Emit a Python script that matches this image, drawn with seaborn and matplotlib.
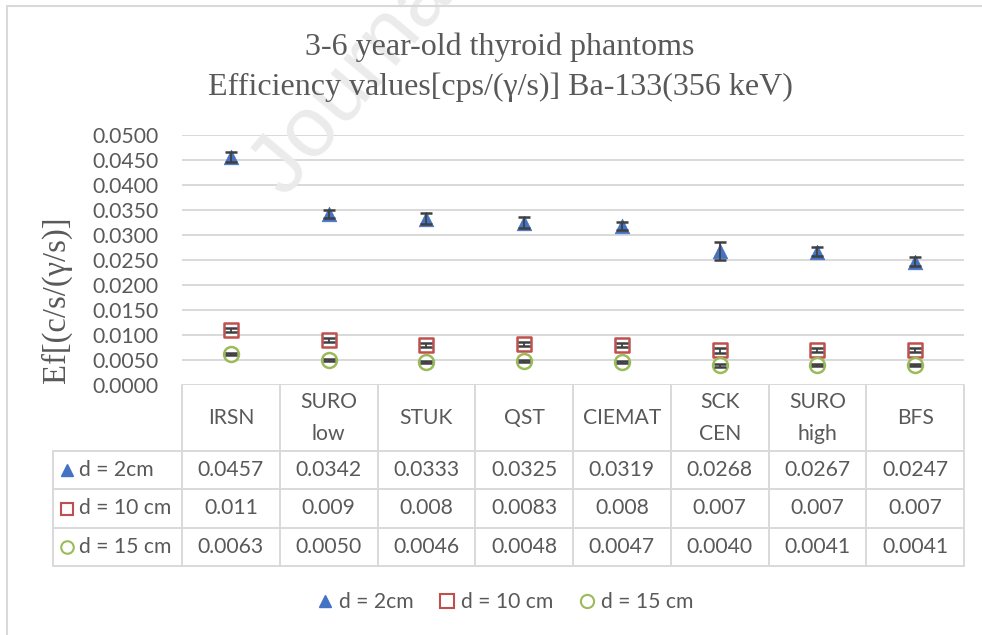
import matplotlib
matplotlib.use("Agg")
import matplotlib.pyplot as plt
from matplotlib.lines import Line2D
import seaborn as sns
import pandas as pd
import numpy as np

# ---- data ----
labs = ["IRSN", "SURO low", "STUK", "QST", "CIEMAT", "SCK CEN", "SURO high", "BFS"]
series = ["d = 2cm", "d = 10 cm", "d = 15 cm"]
d2 = [0.0457, 0.0342, 0.0333, 0.0325, 0.0319, 0.0268, 0.0267, 0.0247]
d10 = [0.011, 0.009, 0.008, 0.0083, 0.008, 0.007, 0.007, 0.007]
d15 = [0.0063, 0.0050, 0.0046, 0.0048, 0.0047, 0.0040, 0.0041, 0.0041]
err2 = [0.0010, 0.0008, 0.0011, 0.0011, 0.0008, 0.0018, 0.0009, 0.0009]
err10 = [0.0004, 0.0004, 0.0004, 0.0004, 0.0004, 0.0005, 0.0004, 0.0004]
err15 = [0.0002, 0.0002, 0.0002, 0.0002, 0.0002, 0.0003, 0.0002, 0.0002]
yticks = [0.0, 0.005, 0.010, 0.015, 0.020, 0.025, 0.030, 0.035, 0.040, 0.045, 0.050]
title1 = "3-6 year-old thyroid phantoms"
title2 = "Efficiency values[cps/(\u03b3/s)] Ba-133(356 keV)"
ylabel = "Ef[(c/s/(\u03b3/s)]"

colors = ["#4472C4", "#C0504D", "#9BBB59"]
markers = ["^", "s", "o"]
txtc = "#595959"
gridc = "#D9D9D9"

df = pd.DataFrame({
    "lab": labs * 3,
    "series": np.repeat(series, len(labs)),
    "value": d2 + d10 + d15,
    "err": err2 + err10 + err15,
})

sns.set_theme(style="white")
plt.rcParams["font.family"] = ["Lato", "DejaVu Sans"]

W, H = 982, 635
fig = plt.figure(figsize=(W / 100, H / 100), dpi=100)
fig.patch.set_facecolor("white")

def fx(x):
    return x / W

def fy(y):
    return 1 - y / H

# watermark
fig.text(fx(238), fy(192), "Journal Pre-proof", rotation=50, fontsize=62,
         color="#EBEBEB", family="Liberation Sans", ha="left", va="baseline",
         zorder=0)

# outer frame
fig.add_artist(Line2D([fx(7), fx(7)], [fy(6), fy(640)], color=gridc, lw=1.5))
fig.add_artist(Line2D([fx(7), fx(985)], [fy(6), fy(6)], color=gridc, lw=1.5))

x0, x1 = 182, 964
ytop, ybot = 135, 385
ax = fig.add_axes([fx(x0), fy(ybot), (x1 - x0) / W, (ybot - ytop) / H])
ax.set_facecolor("none")
ax.set_xlim(-0.5, len(labs) - 0.5)
ax.set_ylim(0, 0.05)
ax.set_yticks(yticks)
ax.set_yticklabels([f"{t:.4f}" for t in yticks], fontsize=15.2, color=txtc)
ax.tick_params(axis="y", length=0, pad=17)
ax.set_xticks([])
for s in ax.spines.values():
    s.set_visible(False)
ax.yaxis.grid(True, color=gridc, lw=1.4)
ax.set_axisbelow(True)

pos = {l: i for i, l in enumerate(labs)}
handles = []
for k, name in enumerate(series):
    sub = df[df["series"] == name]
    xs = sub["lab"].map(pos).to_numpy()
    if k == 0:
        sns.scatterplot(x=xs, y=sub["value"].to_numpy(), marker=markers[k], s=110,
                        color=colors[k], edgecolor=colors[k], linewidth=0.5, ax=ax, zorder=3)
    else:
        sns.scatterplot(x=xs, y=sub["value"].to_numpy(), marker=markers[k], s=115,
                        facecolor="white", edgecolor=colors[k], linewidth=1.8, ax=ax, zorder=3)
    ax.errorbar(xs, sub["value"], yerr=sub["err"], fmt="none", ecolor="#404040",
                elinewidth=1.3, capsize=4.5, capthick=1.8, zorder=4)
    if k == 0:
        h = Line2D([], [], marker=markers[k], ls="", markersize=9, color=colors[k])
    else:
        h = Line2D([], [], marker=markers[k], ls="", markersize=9.5, markerfacecolor="white",
                   markeredgecolor=colors[k], markeredgewidth=1.5)
    handles.append(h)

# titles
fig.text(fx(500), fy(47), title1, ha="center", va="center", fontsize=23,
         family="Liberation Serif", color=txtc)
fig.text(fx(500), fy(87), title2, ha="center", va="center", fontsize=23,
         family="Liberation Serif", color=txtc)
fig.text(fx(56), fy(300), ylabel, ha="center", va="center", rotation=90,
         fontsize=23.5, family="Liberation Serif", color=txtc)

# data table
cols = np.linspace(x0, x1, len(labs) + 1)
rows = [385, 451, 489, 528, 566]
tl = 53
lw_t = 1.4
for y in rows[1:]:
    fig.add_artist(Line2D([fx(tl), fx(x1)], [fy(y), fy(y)], color=gridc, lw=lw_t))
fig.add_artist(Line2D([fx(tl), fx(tl)], [fy(rows[1]), fy(rows[-1])], color=gridc, lw=lw_t))
for c in cols:
    fig.add_artist(Line2D([fx(c), fx(c)], [fy(rows[0]), fy(rows[-1])], color=gridc, lw=lw_t))

fs_t = 15.2
for i, l in enumerate(labs):
    cx = (cols[i] + cols[i + 1]) / 2
    fig.text(fx(cx), fy((rows[0] + rows[1]) / 2), l.replace(" ", "\n"), ha="center",
             va="center", fontsize=fs_t, color=txtc, linespacing=1.75)
    vals = [f"{d2[i]:.4f}", f"{d10[i]:g}", f"{d15[i]:.4f}"]
    for r, v in enumerate(vals):
        fig.text(fx(cx), fy((rows[r + 1] + rows[r + 2]) / 2), v, ha="center",
                 va="center", fontsize=fs_t, color=txtc)

for r, name in enumerate(series):
    yc = (rows[r + 1] + rows[r + 2]) / 2
    h = handles[r]
    fig.add_artist(Line2D([fx(67)], [fy(yc)], marker=h.get_marker(), ls="",
                          markersize=h.get_markersize() * 0.95,
                          markerfacecolor=h.get_markerfacecolor(),
                          markeredgecolor=h.get_markeredgecolor(),
                          markeredgewidth=h.get_markeredgewidth()))
    fig.text(fx(79), fy(yc), name, ha="left", va="center", fontsize=fs_t, color=txtc)

leg = fig.legend(handles, series, loc="center", bbox_to_anchor=(fx(505), fy(602)),
                 ncol=3, frameon=False, fontsize=fs_t, handlelength=0.8,
                 handletextpad=0.25, columnspacing=1.2, labelcolor=txtc)

fig.savefig("out.png", dpi=100, facecolor="white")
